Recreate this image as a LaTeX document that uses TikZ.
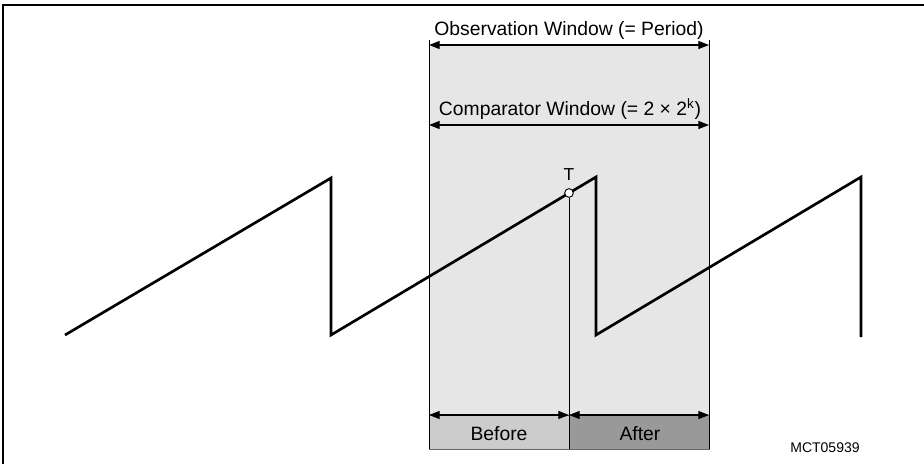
\documentclass[tikz,border=0pt]{standalone}
\usepackage{fontspec}
\setmainfont{Liberation Sans}
\usetikzlibrary{arrows.meta}
\definecolor{winfill}{HTML}{E6E6E6}
\definecolor{beforefill}{HTML}{CCCCCC}
\definecolor{afterfill}{HTML}{999999}
\begin{document}
\begin{tikzpicture}[x=0.75pt,y=-0.75pt,
  wave/.style={line width=2pt,line join=miter},
  dimarrow/.style={line width=0.9pt,{Triangle[length=8pt,width=6pt]}-{Triangle[length=8pt,width=6pt]}},
  thinline/.style={line width=0.75pt},
  lbl/.style={font=\fontsize{14.5}{17}\selectfont,inner sep=0pt,anchor=base},
  frameline/.style={line width=1.5pt}]
\useasboundingbox (0,0) rectangle (924,464);
% frame
\coordinate (fTR) at (924,5);
\coordinate (fTL) at (3,5);
\coordinate (fBL) at (3,464);
\draw[frameline] (fTR) -- (fTL) -- (fBL);
% window region
\coordinate (wTL) at (429,45);
\coordinate (wBR) at (709,415);
\fill[winfill] (wTL) rectangle (wBR);
% bottom boxes
\coordinate (bTL) at (429,415);
\coordinate (bM) at (569,449);
\coordinate (aTL) at (569,415);
\coordinate (aBR) at (709,449);
\filldraw[fill=beforefill,draw=black!60,line width=0.5pt] (bTL) rectangle (bM);
\filldraw[fill=afterfill,draw=black!60,line width=0.5pt] (aTL) rectangle (aBR);
% window edges
\coordinate (lT) at (429,40);
\coordinate (lB) at (429,449);
\coordinate (rT) at (709,40);
\coordinate (rB) at (709,449);
\draw[thinline] (lT) -- (lB);
\draw[thinline] (rT) -- (rB);
% waveform
\coordinate (p0) at (65,335);
\coordinate (p1) at (331,178);
\coordinate (p2) at (331,335);
\coordinate (p3) at (596,177);
\coordinate (p4) at (596,335);
\coordinate (p5) at (861,177);
\coordinate (p6) at (861,337);
\draw[wave] (p0) -- (p1) -- (p2) -- (p3) -- (p4) -- (p5) -- (p6);
% T marker
\coordinate (tB) at (569,449);
\node[circle,draw,fill=white,line width=0.7pt,minimum size=6.5pt,inner sep=0pt] (T) at (569,193) {};
\draw[thinline] (T.south) -- (tB);
\node[font=\fontsize{13}{15}\selectfont,inner sep=0pt,anchor=base] (Tl) at (569,180) {T};
% dimension arrows
\coordinate (oL) at (429,45);
\coordinate (oR) at (709,45);
\draw[dimarrow] (oL) -- (oR);
\node[lbl] (obs) at (569,35) {Observation Window (= Period)};
\coordinate (cL) at (429,125);
\coordinate (cR) at (709,125);
\draw[dimarrow] (cL) -- (cR);
\node[lbl] (cmp) at (570,115) {Comparator Window (= 2 × 2\textsuperscript{k})};
\coordinate (beL) at (429,415);
\coordinate (beR) at (569,415);
\coordinate (afL) at (569,415);
\coordinate (afR) at (709,415);
\draw[dimarrow] (beL) -- (beR);
\draw[dimarrow] (afL) -- (afR);
\node[lbl] (before) at (499,440) {Before};
\node[lbl] (after) at (640,440) {After};
\node[font=\fontsize{10.5}{12}\selectfont,inner sep=0pt,anchor=base] (ref) at (825,452) {MCT05939};
\end{tikzpicture}
\end{document}
